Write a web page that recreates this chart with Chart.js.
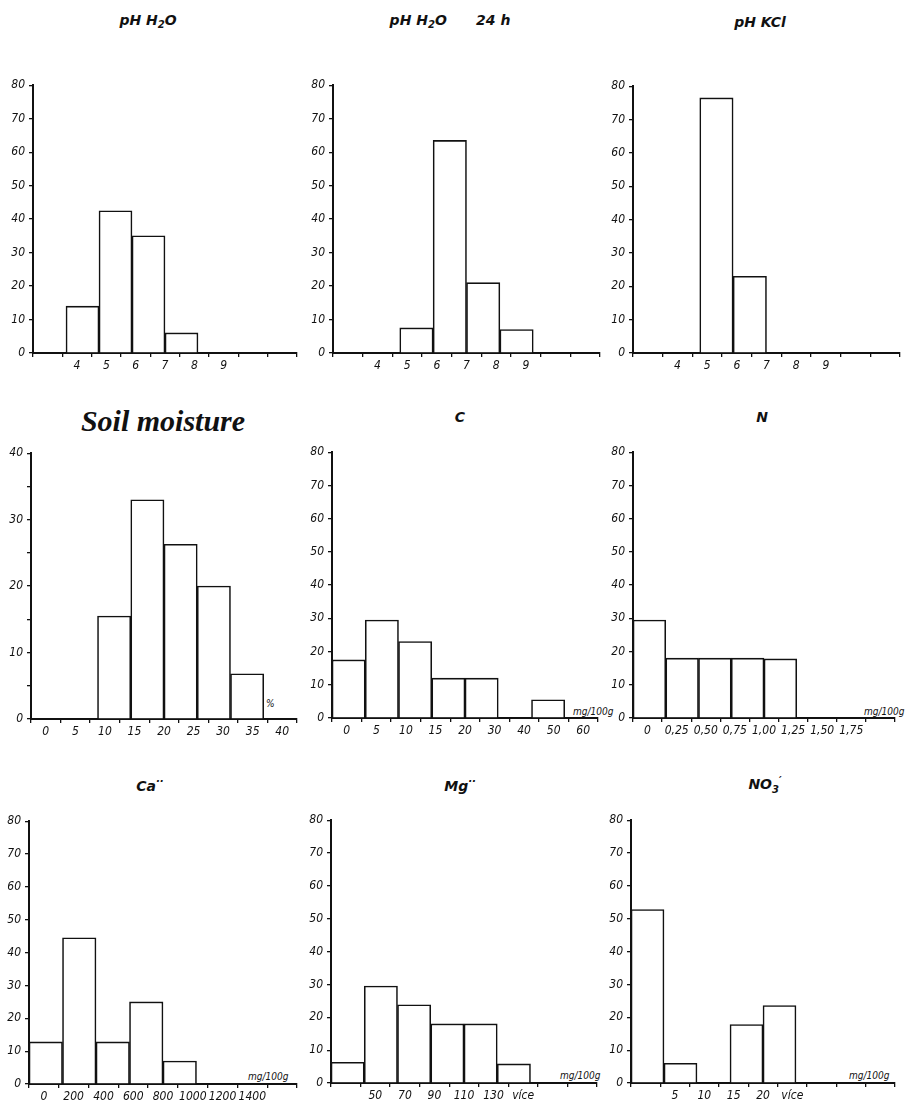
<!DOCTYPE html>
<html>
<head>
<meta charset="utf-8">
<title>Soil property histograms</title>
<script src="https://cdn.jsdelivr.net/npm/chart.js@4.4.1/dist/chart.umd.min.js"></script>
<style>
  body { margin: 0; background: #fff; }
  #page { position: relative; width: 907px; height: 1107px; overflow: hidden; }
  #page canvas { position: absolute; }
  .title {
    position: absolute;
    transform: translate(-50%, -50%);
    font-family: 'DejaVu Sans', sans-serif;
    font-style: italic;
    font-weight: bold;
    font-size: 14px;
    white-space: pre;
    color: #111;
  }
  .title sup { font-size: 10px; }
  .title sub { font-size: 10px; }
  .big {
    font-family: 'Liberation Serif', 'DejaVu Serif', serif;
    font-size: 30px;
  }
  .unit {
    position: absolute;
    transform: translateY(-50%);
    font-family: 'Liberation Sans Narrow', 'DejaVu Sans Condensed', 'Liberation Sans', sans-serif;
    font-style: italic;
    font-size: 10px;
    color: #111;
    white-space: nowrap;
  }
</style>
</head>
<body>
<div id="page">
  <div class="title" style="left:148px; top:21px;">pH H<sub>2</sub>O</div>
  <div class="title" style="left:450px; top:21px;">pH H<sub>2</sub>O      24 h</div>
  <div class="title" style="left:760px; top:22px;">pH KCl</div>
  <div class="title big" style="left:163px; top:421px;">Soil moisture</div>
  <div class="title" style="left:460px; top:417px;">C</div>
  <div class="title" style="left:762px; top:417px;">N</div>
  <div class="title" style="left:150px; top:785px;">Ca<sup>··</sup></div>
  <div class="title" style="left:460px; top:785px;">Mg<sup>··</sup></div>
  <div class="title" style="left:765px; top:785px;">NO<sub>3</sub><sup>′</sup></div>

  <div class="unit" style="left:266px; top:703px;">%</div>
  <div class="unit" style="left:573px; top:711px;">mg/100g</div>
  <div class="unit" style="left:864px; top:711px;">mg/100g</div>
  <div class="unit" style="left:248px; top:1076px;">mg/100g</div>
  <div class="unit" style="left:560px; top:1075px;">mg/100g</div>
  <div class="unit" style="left:849px; top:1075px;">mg/100g</div>
</div>

<script>
// class boundaries (tick labels) and frequencies (%) for each histogram
const phEdges = ['', '4', '5', '6', '7', '8', '9', '', ''];
const phH2oValues = [null, 14, 42.5, 35, 6, null, null, null];
const phH2o24Values = [null, null, 7.5, 63.5, 21, 7, null, null];
const phKclValues = [null, null, 76.5, 23, null, null, null, null];

const moistureEdges = ['0', '5', '10', '15', '20', '25', '30', '35', '40'];
const moistureValues = [null, null, 15.5, 33, 26.3, 20, 6.8, null];

const carbonEdges = ['0', '5', '10', '15', '20', '30', '40', '50', '60'];
const carbonValues = [17.5, 29.5, 23, 12, 12, null, 5.5, null];

const nitrogenEdges = ['0', '0,25', '0,50', '0,75', '1,00', '1,25', '1,50', '1,75', ''];
const nitrogenValues = [29.5, 18, 18, 18, 17.8, null, null, null];

const calciumEdges = ['0', '200', '400', '600', '800', '1000', '1200', '1400', ''];
const calciumValues = [12.8, 44.5, 12.8, 25, 7, null, null, null];

const magnesiumEdges = ['', '50', '70', '90', '110', '130', 'více', '', ''];
const magnesiumValues = [6.3, 29.5, 23.8, 18, 18, 5.8, null, null];

const nitrateEdges = ['', '5', '10', '15', '20', 'více', '', '', ''];
const nitrateValues = [52.8, 6, null, 17.8, 23.6, null, null, null];

const tickFont = {
    family: "'Liberation Sans Narrow', 'DejaVu Sans Condensed', 'Liberation Sans', sans-serif",
    style: 'italic',
    size: 12
};

const Y_AXIS_W = 40;
const X_AXIS_H = 25;
const PAD_TOP = 10;
const PAD_RIGHT = 10;

// box = axis rectangle on the page: left (y axis), top (max tick), right (end of x axis), bottom (zero line)
function makeHistogram(box, edges, values, yMax, yStep, labelEvery) {
    const canvas = document.createElement('canvas');
    const w = box.right - box.left + Y_AXIS_W + PAD_RIGHT;
    const h = box.bottom - box.top + PAD_TOP + X_AXIS_H;
    canvas.width = w;
    canvas.height = h;
    canvas.style.left = (box.left - Y_AXIS_W) + 'px';
    canvas.style.top = (box.top - PAD_TOP) + 'px';
    document.getElementById('page').appendChild(canvas);

    const slots = edges.length - 1;
    const classLabels = [];
    for (let i = 0; i < slots; i++) {
        classLabels.push(edges[i] + '–' + edges[i + 1]);
    }

    new Chart(canvas.getContext('2d'), {
        type: 'bar',
        data: {
            labels: classLabels,
            datasets: [{
                data: values,
                backgroundColor: '#fff',
                borderColor: '#111',
                borderWidth: 1.6,
                barPercentage: 1,
                categoryPercentage: 1
            }]
        },
        options: {
            responsive: false,
            animation: false,
            layout: { padding: { top: PAD_TOP, right: PAD_RIGHT, left: 0, bottom: 0 } },
            plugins: {
                legend: { display: false },
                tooltip: { enabled: false }
            },
            scales: {
                x: { type: 'category', display: false, offset: true },
                edges: {
                    type: 'linear',
                    position: 'bottom',
                    min: 0,
                    max: slots,
                    afterBuildTicks: axis => {
                        axis.ticks = edges.map((e, i) => ({ value: i }));
                    },
                    afterFit: axis => { axis.height = X_AXIS_H; },
                    ticks: {
                        autoSkip: false,
                        maxRotation: 0,
                        padding: 2,
                        color: '#111',
                        font: tickFont,
                        callback: value => edges[value] || ''
                    },
                    grid: { drawOnChartArea: false, color: '#111', tickLength: 4, lineWidth: 1.3 },
                    border: { color: '#111', width: 2 }
                },
                y: {
                    min: 0,
                    max: yMax,
                    afterFit: axis => { axis.width = Y_AXIS_W; },
                    ticks: {
                        stepSize: yStep,
                        padding: 4,
                        color: '#111',
                        font: tickFont,
                        callback: value => (value % labelEvery === 0 ? value : '')
                    },
                    grid: { drawOnChartArea: false, color: '#111', tickLength: 4, lineWidth: 1.3 },
                    border: { color: '#111', width: 2 }
                }
            }
        }
    });
}

// top row
makeHistogram({ left: 33, top: 84, right: 297, bottom: 353 }, phEdges, phH2oValues, 80, 10, 10);
makeHistogram({ left: 333, top: 84, right: 600, bottom: 353 }, phEdges, phH2o24Values, 80, 10, 10);
makeHistogram({ left: 633, top: 85, right: 900, bottom: 353 }, phEdges, phKclValues, 80, 10, 10);

// middle row
makeHistogram({ left: 31, top: 452, right: 297, bottom: 719 }, moistureEdges, moistureValues, 40, 5, 10);
makeHistogram({ left: 332, top: 451, right: 598, bottom: 718 }, carbonEdges, carbonValues, 80, 10, 10);
makeHistogram({ left: 633, top: 451, right: 895, bottom: 718 }, nitrogenEdges, nitrogenValues, 80, 10, 10);

// bottom row
makeHistogram({ left: 29, top: 820, right: 297, bottom: 1084 }, calciumEdges, calciumValues, 80, 10, 10);
makeHistogram({ left: 331, top: 819, right: 597, bottom: 1083 }, magnesiumEdges, magnesiumValues, 80, 10, 10);
makeHistogram({ left: 631, top: 819, right: 895, bottom: 1083 }, nitrateEdges, nitrateValues, 80, 10, 10);
</script>
</body>
</html>
